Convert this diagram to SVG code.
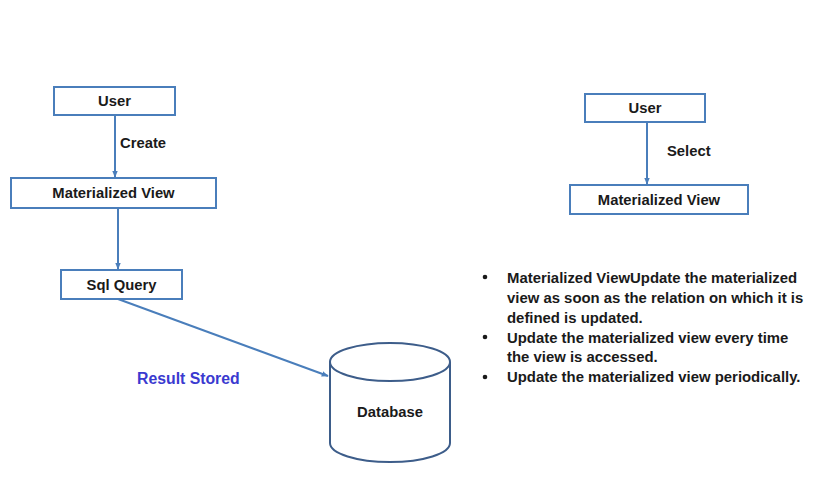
<svg xmlns="http://www.w3.org/2000/svg" width="831" height="497" viewBox="0 0 831 497">
<defs>
<marker id="arr" viewBox="0 0 10 10" refX="9" refY="5" markerWidth="7" markerHeight="7" orient="auto" markerUnits="userSpaceOnUse">
<path d="M0,1 L10,5 L0,9 z" fill="#4a7ebb"/>
</marker>
<style>
.box{fill:#ffffff;stroke:#4a7ebb;stroke-width:2}
.lbl{font-family:"Liberation Sans","Open Sans",sans-serif;font-weight:bold;font-size:14.8px;fill:#1a1a1a;text-anchor:middle}
.edge{stroke:#4a7ebb;stroke-width:2;fill:none}
.elbl{font-family:"Liberation Sans","Open Sans",sans-serif;font-weight:bold;font-size:14.8px;fill:#1a1a1a}
.bul{font-family:"Liberation Sans","Open Sans",sans-serif;font-weight:bold;font-size:14.9px;fill:#1a1a1a}
.cyl{fill:#ffffff;stroke:#3d5d8a;stroke-width:2}
</style>
</defs>
<rect width="831" height="497" fill="#ffffff"/>
<g id="connectors">
<line class="edge" x1="115" y1="115" x2="115" y2="177" marker-end="url(#arr)"/>
<line class="edge" x1="118" y1="208" x2="118" y2="269" marker-end="url(#arr)"/>
<line class="edge" x1="118" y1="299" x2="328" y2="376" marker-end="url(#arr)"/>
<line class="edge" x1="647" y1="122" x2="647" y2="184" marker-end="url(#arr)"/>
<text class="elbl" x="120" y="148">Create</text>
<text class="elbl" x="667" y="156">Select</text>
<text x="137" y="384" font-family="Liberation Sans, Open Sans, sans-serif" font-weight="bold" font-size="15.8" fill="#3a3ad0">Result Stored</text>
</g>
<g id="user-left">
<rect class="box" x="54" y="87" width="121" height="28"/>
<text class="lbl" x="114.5" y="106">User</text>
</g>
<g id="mview-left">
<rect class="box" x="11" y="178" width="205" height="30"/>
<text class="lbl" x="113.5" y="198">Materialized View</text>
</g>
<g id="sql-query">
<rect class="box" x="61" y="270" width="121" height="29"/>
<text class="lbl" x="121.5" y="290">Sql Query</text>
</g>
<g id="database">
<path class="cyl" d="M330,362 L330,443 A60,19 0 0 0 450,443 L450,362"/>
<ellipse class="cyl" cx="390" cy="362" rx="60" ry="19"/>
<text class="lbl" x="390" y="417">Database</text>
</g>
<g id="user-right">
<rect class="box" x="585" y="94" width="120" height="28"/>
<text class="lbl" x="645" y="113">User</text>
</g>
<g id="mview-right">
<rect class="box" x="570" y="185" width="178" height="29"/>
<text class="lbl" x="659" y="205">Materialized View</text>
</g>
<g id="notes">
<circle cx="485" cy="277" r="2.3" fill="#1a1a1a"/>
<circle cx="485" cy="337" r="2.3" fill="#1a1a1a"/>
<circle cx="485" cy="377" r="2.3" fill="#1a1a1a"/>
<text class="bul" x="507" y="283">Materialized ViewUpdate the materialized</text>
<text class="bul" x="507" y="303">view as soon as the relation on which it is</text>
<text class="bul" x="507" y="323">defined is updated.</text>
<text class="bul" x="507" y="343">Update the materialized view every time</text>
<text class="bul" x="507" y="362">the view is accessed.</text>
<text class="bul" x="507" y="382">Update the materialized view periodically.</text>
</g>
</svg>
